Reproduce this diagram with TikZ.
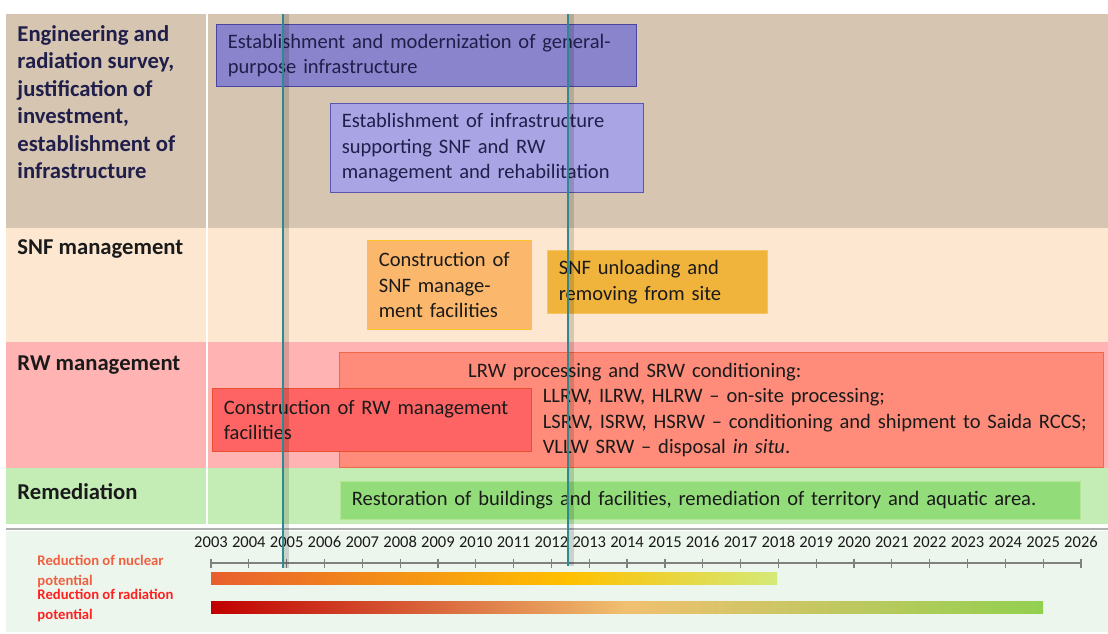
\documentclass[tikz,border=0pt]{standalone}
\usepackage{fontspec}
\setmainfont{Carlito}
\usepackage{tikz}
\tikzset{every picture/.style={line width=0.75pt}}

\definecolor{bandTop}{RGB}{213,197,177}
\definecolor{bandSNF}{RGB}{253,231,208}
\definecolor{bandRW}{RGB}{255,179,179}
\definecolor{bandRem}{RGB}{196,237,182}
\definecolor{bandAxis}{RGB}{236,246,237}
\definecolor{navyText}{RGB}{32,30,74}
\definecolor{darkText}{RGB}{26,26,26}
\definecolor{tealMark}{RGB}{46,138,143}
\definecolor{nucStart}{RGB}{232,94,46}
\definecolor{nucMid}{RGB}{255,192,0}
\definecolor{nucEnd}{RGB}{212,234,120}
\definecolor{radStart}{RGB}{192,0,0}
\definecolor{radMid}{RGB}{240,192,112}
\definecolor{radEnd}{RGB}{146,208,80}

\pgfdeclarehorizontalshading{nuclearShade}{100bp}{color(0bp)=(nucStart); color(25bp)=(nucStart); color(56.5bp)=(nucMid); color(75bp)=(nucEnd); color(100bp)=(nucEnd)}
\pgfdeclarehorizontalshading{radiationShade}{100bp}{color(0bp)=(radStart); color(25bp)=(radStart); color(50bp)=(radMid); color(75bp)=(radEnd); color(100bp)=(radEnd)}

\tikzset{
	taskbox/.style={draw, anchor=north west, inner xsep=8.5pt, inner ysep=0pt, align=left, text=darkText, font=\fontsize{15.4}{19.1}\selectfont},
	bandlbl/.style={anchor=west, inner sep=0pt, align=left, text=darkText, font=\fontsize{17}{20.6}\selectfont\bfseries},
	yearlbl/.style={inner sep=0pt, text=darkText, font=\fontsize{12.4}{14}\selectfont},
	axisgrey/.style={draw={rgb,255:red,128;green,128;blue,128}, line width=0.9pt},
}

\begin{document}
\begin{tikzpicture}[x=0.75pt,y=0.75pt,yscale=-1,xscale=1]
		\useasboundingbox (0,0) rectangle (1108,633);
		
		%Shape: Rectangle [bands]
		\fill[bandTop] (6,14) rectangle (1108,228);
		\fill[bandSNF] (6,228) rectangle (1108,342);
		\fill[bandRW] (6,342) rectangle (1108,468);
		\fill[bandRem] (6,468) rectangle (1108,524);
		\draw[white, line width=1.5] (207,14) -- (207,524);
		%Shape: Rectangle [axis area]
		\fill[bandAxis] (6,531) rectangle (1108,632);
		\draw[color={rgb,255:red,176;green,176;blue,176}, line width=2] (6,529) -- (1108,529);
		
		% Text Node
		\node[bandlbl, anchor=north west, text=navyText] (lblSurvey) at (17,25) {Engineering and\\radiation survey,\\justification of\\investment,\\establishment of\\infrastructure};
		% Text Node
		\node[bandlbl] (lblSNF) at (17,249) {SNF management};
		% Text Node
		\node[bandlbl] (lblRW) at (17,365) {RW management};
		% Text Node
		\node[bandlbl] (lblRemed) at (17,492) {Remediation};
		
		%Shape: Rectangle [infrastructure]
		\node[taskbox, fill={rgb,255:red,137;green,132;blue,204}, draw={rgb,255:red,74;green,70;blue,160}, text=navyText, text width=298pt, minimum height=46.5pt] (genInfra) at (216,24) {Establishment and modernization of general-\\purpose infrastructure};
		\node[taskbox, fill={rgb,255:red,169;green,165;blue,229}, draw={rgb,255:red,90;green,86;blue,176}, text=navyText, text width=217.75pt, minimum height=66.75pt] (snfInfra) at (330,103) {Establishment of infrastructure\\supporting SNF and RW\\management and rehabilitation};
		
		%Shape: Rectangle [SNF]
		\node[taskbox, fill={rgb,255:red,251;green,184;blue,108}, draw={rgb,255:red,255;green,196;blue,40}, text width=106pt, minimum height=66.75pt] (snfBuild) at (367,240) {Construction of\\SNF manage-\\ment facilities};
		\node[taskbox, fill={rgb,255:red,240;green,180;blue,60}, draw={rgb,255:red,246;green,196;blue,96}, text width=148pt, minimum height=47.25pt] (snfUnload) at (547,250) {SNF unloading and\\removing from site};
		
		%Shape: Rectangle [RW]
		\node[taskbox, fill={rgb,255:red,255;green,140;blue,122}, draw={rgb,255:red,240;green,104;blue,72}, text width=556pt, minimum height=86.25pt] (lrwProc) at (339,352) {\hspace*{88pt}LRW processing and SRW conditioning:\\
			\hspace*{144pt}LLRW, ILRW, HLRW -- on-site processing;\\
			\hspace*{144pt}\mbox{LSRW, ISRW, HSRW -- conditioning and shipment to Saida RCCS;}\\
			\hspace*{144pt}VLLW SRW -- disposal \textit{in situ}.};
		\node[taskbox, fill={rgb,255:red,255;green,100;blue,100}, draw={rgb,255:red,232;green,80;blue,48}, text width=222pt, minimum height=47.25pt] (rwBuild) at (212,388) {Construction of RW management\\facilities};
		
		%Shape: Rectangle [remediation]
		\node[taskbox, fill={rgb,255:red,146;green,220;blue,122}, draw={rgb,255:red,180;green,230;blue,150}, text width=538pt, minimum height=28.5pt] (restore) at (340,481) {Restoration of buildings and facilities, remediation of territory and aquatic area.};
		
		%Straight Lines [time axis]
		\draw[axisgrey] (211,563) -- (1080,563);
		\foreach \yr [count=\i from 0] in {2003,...,2026}{
			\node[yearlbl] (yr\yr) at (211+37.826*\i,542) {\yr};
			\draw[axisgrey] (211+37.826*\i,558.5) -- (211+37.826*\i,567.5);
		}
		
		% Text Node
		\node[anchor=north west, inner sep=0pt, align=left, text={rgb,255:red,240;green,96;blue,64}, font=\fontsize{11}{15}\selectfont\bfseries] (lblNuclear) at (37,555) {Reduction of nuclear\\potential};
		% Text Node
		\node[anchor=north west, inner sep=0pt, align=left, text={rgb,255:red,255;green,32;blue,32}, font=\fontsize{11}{15}\selectfont\bfseries] (lblRadiation) at (37,589) {Reduction of radiation\\potential};
		
		%Shape: Rectangle [bars]
		\shade[shading=nuclearShade] (211,572) rectangle (777,584);
		\shade[shading=radiationShade] (211,601) rectangle (1043,613);
		
		%Straight Lines [markers]
		\draw[black, opacity=0.14, line width=4] (286,14) -- (286,568);
		\draw[tealMark, line width=2] (283,14) -- (283,568);
		\draw[black, opacity=0.14, line width=4] (571,14) -- (571,566);
		\draw[tealMark, line width=2] (568,14) -- (568,566);
		
\end{tikzpicture}
\end{document}
